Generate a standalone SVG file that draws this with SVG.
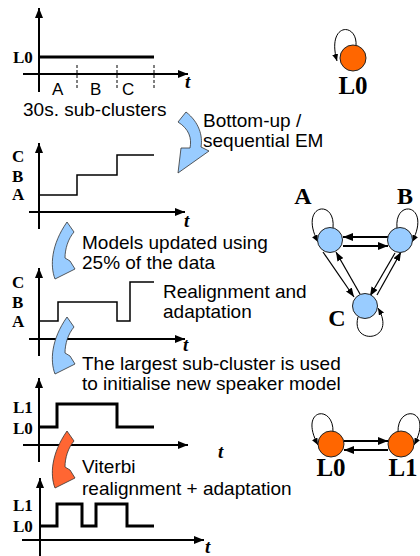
<svg xmlns="http://www.w3.org/2000/svg" width="420" height="556" viewBox="0 0 420 556">
<style>
.ax{stroke:#000;stroke-width:2;fill:none}
.step{stroke:#000;stroke-width:1.5;fill:none}
.thick{stroke:#000;stroke-width:3;fill:none}
.dash{stroke:#000;stroke-width:1;stroke-dasharray:3,2;fill:none}
.txt{font-family:"Liberation Sans",Arial,sans-serif;font-size:19px;fill:#000}
.lab{font-family:"Liberation Serif","Times New Roman",serif;font-weight:bold;font-size:17px;fill:#000}
.t{font-family:"Liberation Serif","Times New Roman",serif;font-weight:bold;font-style:italic;font-size:19px;fill:#000}
.big{font-family:"Liberation Serif","Times New Roman",serif;font-weight:bold;font-size:25px;fill:#000;text-anchor:middle}
.blue{fill:#99CCFF;stroke:#333;stroke-width:0.8}
.orange{fill:#FF6633;stroke:#333;stroke-width:0.8}
.nb{fill:#99CCFF;stroke:#222;stroke-width:1}
.no{fill:#FF6600;stroke:#222;stroke-width:1}
.e2{stroke:#000;stroke-width:2;fill:none;marker-end:url(#ah2)}
.e1{stroke:#000;stroke-width:1.2;fill:none;marker-end:url(#ah1)}
.lp{stroke:#000;stroke-width:1;fill:none;marker-end:url(#ahl)}
</style>
<defs>
<marker id="axm" markerUnits="userSpaceOnUse" markerWidth="10" markerHeight="8" refX="10" refY="4" orient="auto"><path d="M0,0 L10,4 L0,8 Z" fill="#000"/></marker>
<marker id="ah2" markerUnits="userSpaceOnUse" markerWidth="10" markerHeight="8" refX="10" refY="4" orient="auto"><path d="M0,0 L10,4 L0,8 Z" fill="#000"/></marker>
<marker id="ah1" markerUnits="userSpaceOnUse" markerWidth="9" markerHeight="7" refX="9" refY="3.5" orient="auto"><path d="M0,0 L9,3.5 L0,7 Z" fill="#000"/></marker>
<marker id="ahl" markerUnits="userSpaceOnUse" markerWidth="7" markerHeight="6" refX="7" refY="3" orient="auto"><path d="M0,0 L7,3 L0,6 Z" fill="#000"/></marker>
<path id="carrow" d="M17,1 L24,11 C18,18 15,28 15,37 L20,40 L25,48 L5,58 C0,45 1,24 17,1 Z"/>
</defs>

<!-- Chart 1 -->
<g id="chart1">
<line class="ax" x1="39" y1="92" x2="39" y2="8" marker-end="url(#axm)"/>
<line class="ax" x1="23" y1="74" x2="188" y2="74" marker-end="url(#axm)"/>
<line class="thick" x1="39" y1="57" x2="154" y2="57"/>
<line class="dash" x1="77" y1="65" x2="77" y2="89"/>
<line class="dash" x1="117" y1="65" x2="117" y2="89"/>
<line class="dash" x1="154" y1="65" x2="154" y2="89"/>
<text class="lab" x="13" y="63">L0</text>
<text class="txt" x="52" y="95" style="font-size:17px">A</text>
<text class="txt" x="90" y="95" style="font-size:17px">B</text>
<text class="txt" x="122" y="95" style="font-size:17px">C</text>
<text class="t" x="185" y="88">t</text>
<text class="txt" x="23" y="116">30s. sub-clusters</text>
</g>

<!-- Chart 2 -->
<g id="chart2">
<line class="ax" x1="39" y1="229" x2="39" y2="143" marker-end="url(#axm)"/>
<line class="ax" x1="29" y1="212" x2="185" y2="212" marker-end="url(#axm)"/>
<path class="step" d="M39,195 H77 V175 H117 V155 H154"/>
<text class="lab" x="12" y="162">C</text>
<text class="lab" x="12" y="182">B</text>
<text class="lab" x="12" y="200">A</text>
<text class="t" x="184" y="227">t</text>
</g>

<!-- Chart 3 -->
<g id="chart3">
<line class="ax" x1="39" y1="356" x2="39" y2="268" marker-end="url(#axm)"/>
<line class="ax" x1="29" y1="339" x2="185" y2="339" marker-end="url(#axm)"/>
<path class="step" d="M39,321 H58 V302 H117 V321 H130 V282 H154"/>
<text class="lab" x="12" y="288">C</text>
<text class="lab" x="12" y="308">B</text>
<text class="lab" x="12" y="327">A</text>
<text class="t" x="183" y="351">t</text>
</g>

<!-- Chart 4 -->
<g id="chart4">
<line class="ax" x1="39" y1="462" x2="39" y2="378" marker-end="url(#axm)"/>
<line class="ax" x1="23" y1="445" x2="188" y2="445" marker-end="url(#axm)"/>
<path class="thick" d="M39,427 H57 V404 H117 V427 H154"/>
<text class="lab" x="13" y="413">L1</text>
<text class="lab" x="13" y="434">L0</text>
<text class="t" x="218" y="458">t</text>
</g>

<!-- Chart 5 -->
<g id="chart5">
<line class="ax" x1="40" y1="556" x2="40" y2="478" marker-end="url(#axm)"/>
<line class="ax" x1="22" y1="540" x2="204" y2="540" marker-end="url(#axm)"/>
<path class="thick" d="M40,526 H57 V504 H82 V526 H96 V504 H127 V526 H154"/>
<text class="lab" x="13" y="511">L1</text>
<text class="lab" x="13" y="532">L0</text>
<text class="t" x="205" y="553">t</text>
</g>

<!-- Curved block arrows -->
<g id="step-arrows">
<path class="blue" d="M178,122 L186,112 C199,122 203,136 201,147 L209,151 L178,173 L181,148 L190,148 C192,138 189,129 178,122 Z"/>
<use href="#carrow" class="blue" transform="translate(50,221)"/>
<use href="#carrow" class="blue" transform="translate(50,316)"/>
<use href="#carrow" class="orange" transform="translate(50,430)"/>
</g>

<!-- Step texts -->
<g id="texts">
<text class="txt" x="203" y="127">Bottom-up /</text>
<text class="txt" x="203" y="147">sequential EM</text>
<text class="txt" x="82" y="249">Models updated using</text>
<text class="txt" x="82" y="269">25% of the data</text>
<text class="txt" x="163" y="298">Realignment and</text>
<text class="txt" x="163" y="318">adaptation</text>
<text class="txt" x="82" y="370">The largest sub-cluster is used</text>
<text class="txt" x="82" y="390">to initialise new speaker model</text>
<text class="txt" x="82" y="473">Viterbi</text>
<text class="txt" x="82" y="495">realignment + adaptation</text>
</g>

<!-- Model graphs: connectors -->
<g id="connectors">
<path class="lp" d="M356,46 C358,22 326,22 337,61"/>
<line class="e2" x1="388" y1="237" x2="343" y2="237"/>
<line class="e2" x1="343" y1="246" x2="388" y2="246"/>
<line class="e1" x1="323" y1="252" x2="354" y2="297"/>
<line class="e1" x1="360" y1="294" x2="336" y2="252"/>
<line class="e1" x1="395" y1="253" x2="370" y2="296"/>
<line class="e1" x1="377" y1="295" x2="401" y2="252"/>
<path class="lp" d="M333,228 C336,198 298,204 318,242"/>
<path class="lp" d="M397,228 C394,198 432,204 412,242"/>
<path class="lp" d="M358,317 C350,346 398,342 378,308"/>
<line class="e2" x1="344" y1="441" x2="388" y2="441"/>
<line class="e2" x1="388" y1="450" x2="344" y2="450"/>
<path class="lp" d="M333,432 C334,404 298,408 318,445"/>
<path class="lp" d="M398,432 C397,404 434,408 414,445"/>
</g>

<g id="node-L0-top">
<circle class="no" cx="353" cy="58" r="13"/>
<text class="big" x="353" y="94">L0</text>
</g>
<g id="node-A">
<circle class="nb" cx="330" cy="240" r="12.5"/>
<text class="big" x="303" y="204" style="font-size:24px">A</text>
</g>
<g id="node-B">
<circle class="nb" cx="400" cy="240" r="12.5"/>
<text class="big" x="405" y="204" style="font-size:24px">B</text>
</g>
<g id="node-C">
<circle class="nb" cx="365" cy="306" r="12.5"/>
<text class="big" x="337" y="326" style="font-size:24px">C</text>
</g>
<g id="node-L0-bottom">
<circle class="no" cx="331" cy="444" r="13"/>
<text class="big" x="331" y="476">L0</text>
</g>
<g id="node-L1-bottom">
<circle class="no" cx="401" cy="444" r="13"/>
<text class="big" x="403" y="476">L1</text>
</g>
</svg>
